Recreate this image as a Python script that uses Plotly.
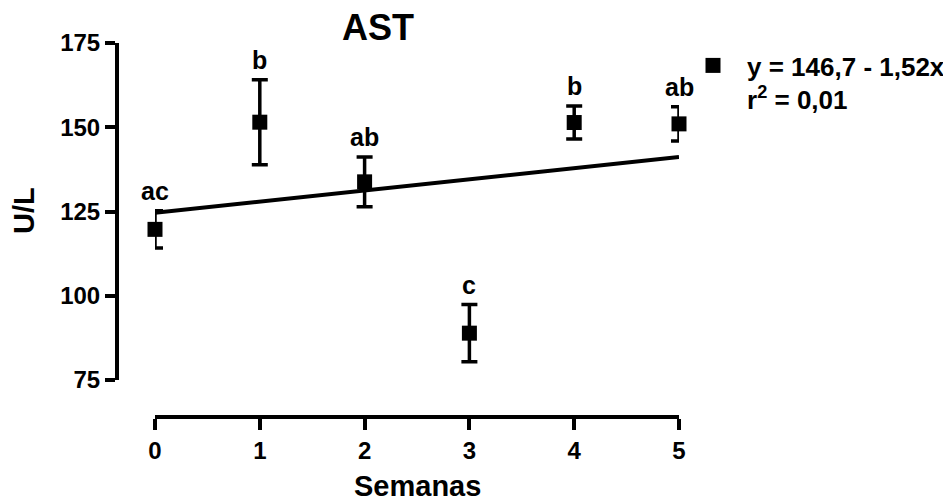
import plotly.graph_objects as go

# Data
weeks = [0, 1, 2, 3, 4, 5]
ast_mean = [119.7, 151.5, 133.8, 88.9, 151.4, 151.0]
ast_sem = [5.5, 12.6, 7.4, 8.5, 4.9, 5.1]
letters = ["ac", "b", "ab", "c", "b", "ab"]
fit_x = [0, 5]
fit_y = [124.6, 141.2]
y_ticks = [75, 100, 125, 150, 175]
x_ticks = [0, 1, 2, 3, 4, 5]
legend_text = "y = 146,7 - 1,52x<br>r<sup>2</sup> = 0,01"

W, H = 951, 501
OX, OY = 8, 8  # page body margin offset
FONT = "Liberation Sans, Arial, Helvetica, sans-serif"


def px(x):
    return (x - OX) / W


def py(y):
    return 1 - (y - OY) / H


fig = go.Figure()

fig.add_trace(go.Scatter(
    x=fit_x, y=fit_y, mode="lines",
    line=dict(color="black", width=4),
    showlegend=False, cliponaxis=False, hoverinfo="skip",
))

fig.add_trace(go.Scatter(
    x=weeks, y=ast_mean, mode="markers",
    marker=dict(symbol="square", size=15, color="black"),
    error_y=dict(type="data", array=ast_sem, visible=True,
                 color="black", thickness=3.5, width=8),
    name=legend_text, cliponaxis=False,
))

for xv, m, s, t in zip(weeks, ast_mean, ast_sem, letters):
    fig.add_annotation(x=xv, y=m + s, text=t, showarrow=False,
                       xanchor="center", yanchor="bottom", yshift=4,
                       font=dict(family=FONT, size=25, color="black", weight="bold"))

# Axis titles
fig.add_annotation(xref="paper", yref="paper", x=px(417), y=py(486),
                   text="Semanas", showarrow=False, xanchor="center", yanchor="middle",
                   font=dict(family=FONT, size=29, color="black", weight="bold"))
fig.add_annotation(xref="paper", yref="paper", x=px(24), y=py(211),
                   text="U/L", showarrow=False, textangle=-90,
                   xanchor="center", yanchor="middle",
                   font=dict(family=FONT, size=29, color="black", weight="bold"))

fig.update_layout(
    width=W, height=H,
    margin=dict(l=0, r=0, t=0, b=0, pad=0, autoexpand=False),
    paper_bgcolor="white", plot_bgcolor="white",
    title=dict(text="AST", x=px(378), y=py(27), xref="paper", yref="paper",
               xanchor="center", yanchor="middle", automargin=False,
               font=dict(family=FONT, size=36, color="black", weight="bold")),
    font=dict(family=FONT, color="black"),
    showlegend=True,
    legend=dict(x=px(679), y=py(42), xanchor="left", yanchor="top",
                font=dict(family=FONT, size=26, color="black", weight="bold"),
                valign="top", bgcolor="rgba(0,0,0,0)", itemsizing="trace",
                itemwidth=58),
    xaxis=dict(
        domain=[px(155), px(679)], range=[0, 5], automargin=False,
        anchor="free", position=py(417),
        tickvals=x_ticks, ticktext=[str(v) for v in x_ticks],
        ticks="outside", ticklen=11, tickwidth=4, tickcolor="black",
        showline=True, linewidth=4, linecolor="black",
        showgrid=False, zeroline=False,
        tickfont=dict(family=FONT, size=24, color="black", weight="bold"),
    ),
    yaxis=dict(
        domain=[py(380), py(43)], range=[75, 175], automargin=False,
        anchor="free", position=px(117),
        tickvals=y_ticks, ticktext=[str(v) for v in y_ticks],
        ticks="outside", ticklen=10, tickwidth=4, tickcolor="black",
        showline=True, linewidth=4, linecolor="black",
        showgrid=False, zeroline=False,
        tickfont=dict(family=FONT, size=24, color="black", weight="bold"),
    ),
)

fig.write_html("out.html")
